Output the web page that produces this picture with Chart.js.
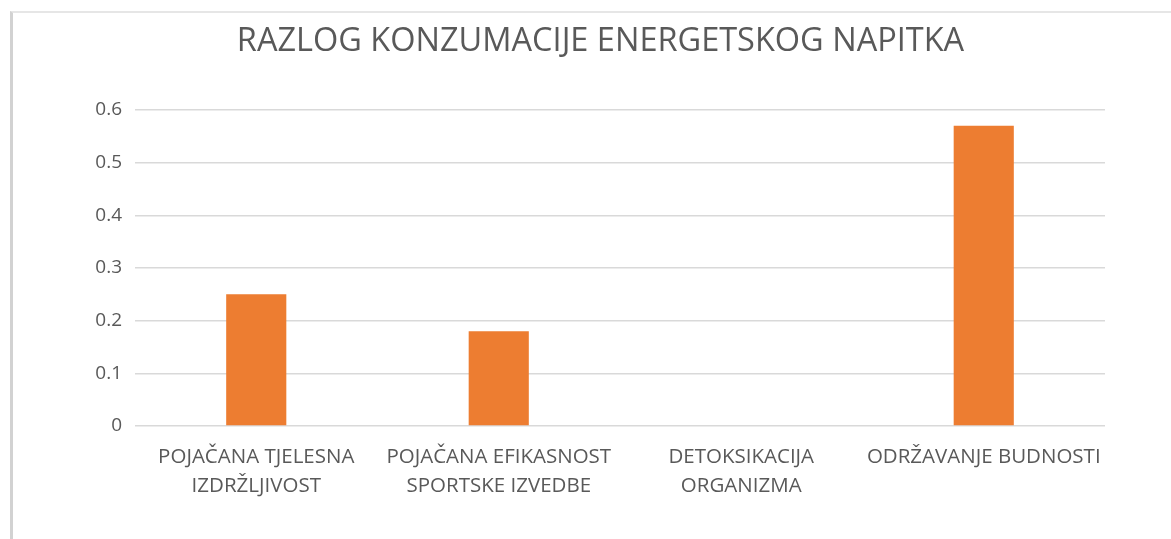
<!DOCTYPE html>
<html>
<head>
<meta charset="utf-8">
<script src="https://cdn.jsdelivr.net/npm/chart.js@4.4.1/dist/chart.umd.min.js"></script>
<style>
    body { margin: 0; background: #fff; }
    .frame {
        position: absolute; left: 10px; top: 11px; right: 0; bottom: 0;
        border-left: 3px solid #d2d2d2; border-top: 2px solid #e6e6e6;
    }
    #chartWrap { position: absolute; left: 0; top: 0; width: 1171px; height: 539px; }
</style>
</head>
<body>
<div class="frame"></div>
<div id="chartWrap"><canvas id="reasonChart"></canvas></div>
<script>
    const chartTitle = 'RAZLOG KONZUMACIJE ENERGETSKOG NAPITKA';
    const categories = [
        ['POJAČANA TJELESNA', 'IZDRŽLJIVOST'],
        ['POJAČANA EFIKASNOST', 'SPORTSKE IZVEDBE'],
        ['DETOKSIKACIJA', 'ORGANIZMA'],
        ['ODRŽAVANJE BUDNOSTI']
    ];
    const shares = [0.25, 0.18, 0, 0.57];
    const yTicks = [0, 0.1, 0.2, 0.3, 0.4, 0.5, 0.6];

    const textGrey = '#595959';
    const fontName = "'Open Sans', sans-serif";

    const ctx = document.getElementById('reasonChart').getContext('2d');
    new Chart(ctx, {
        type: 'bar',
        data: {
            labels: categories,
            datasets: [{
                data: shares,
                backgroundColor: '#ED7D31',
                borderWidth: 0,
                categoryPercentage: 1,
                barPercentage: 0.248
            }]
        },
        options: {
            responsive: true,
            maintainAspectRatio: false,
            animation: false,
            layout: { padding: { left: 30, right: 0, top: 0, bottom: 0 } },
            plugins: {
                legend: { display: false },
                tooltip: { enabled: false },
                title: {
                    display: true,
                    text: chartTitle,
                    color: textGrey,
                    font: { family: fontName, size: 32.5, weight: 'normal', lineHeight: 1.2 },
                    padding: { top: 22, bottom: 49 }
                }
            },
            scales: {
                x: {
                    grid: { display: false },
                    border: { display: false },
                    ticks: {
                        color: textGrey,
                        font: { family: fontName, size: 20.5, lineHeight: 1.45 },
                        maxRotation: 0,
                        autoSkip: false,
                        padding: 8
                    },
                    afterFit: (scale) => { scale.height = 113; }
                },
                y: {
                    min: 0,
                    max: 0.6,
                    grid: { color: '#d9d9d9', lineWidth: 1.5, drawTicks: false },
                    border: { display: false },
                    afterBuildTicks: (scale) => {
                        scale.ticks = yTicks.map(v => ({ value: v }));
                    },
                    ticks: {
                        color: textGrey,
                        font: { family: fontName, size: 19 },
                        padding: 13,
                        callback: (v) => v === 0 ? '0' : v.toFixed(1)
                    },
                    afterFit: (scale) => { scale.width = 105; }
                },
                // empty right axis only reserves the white strip right of the plot
                yRight: {
                    position: 'right',
                    display: true,
                    grid: { display: false },
                    border: { display: false },
                    ticks: { display: false },
                    afterFit: (scale) => { scale.width = 66; }
                }
            }
        }
    });
</script>
</body>
</html>
